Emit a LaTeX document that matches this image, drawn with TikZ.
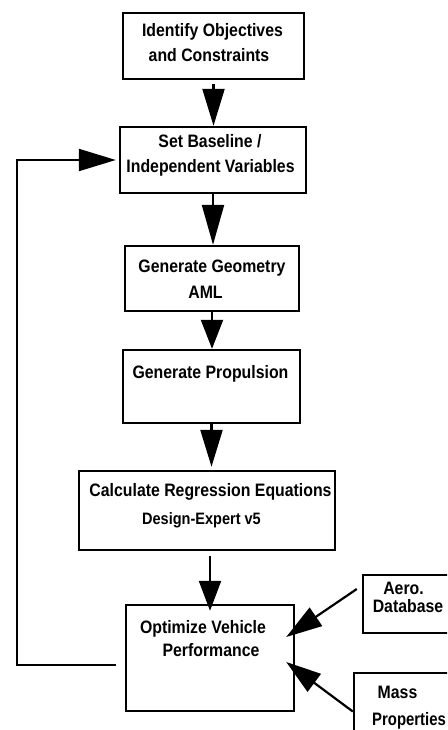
\documentclass[tikz,border=0pt]{standalone}
\usepackage{fontspec}
\setmainfont{Liberation Sans}[FakeStretch=0.88]
\usetikzlibrary{arrows.meta}
\begin{document}
\begin{tikzpicture}[x=1pt,y=-1pt,
  box/.style={draw, line width=2.4pt, rectangle, inner sep=0pt},
  lbl/.style={anchor=base, inner sep=0pt, font=\fontsize{18}{18}\selectfont\bfseries},
  lbls/.style={anchor=base, inner sep=0pt, font=\fontsize{16.5}{16.5}\selectfont\bfseries},
  conn/.style={line width=2.2pt},
  arr/.style={conn, -{Triangle[length=#1pt, width=22pt]}},
  arr/.default=36
]
\useasboundingbox (0,0) rectangle (447,730);
\clip (0,0) rectangle (447,730);
% boxes
\node[box, minimum width=181pt, minimum height=66pt] (b1) at (213.5,46) {};
\node[box, minimum width=186pt, minimum height=66pt] (b2) at (213,160) {};
\node[box, minimum width=174pt, minimum height=65pt] (b3) at (212,278.5) {};
\node[box, minimum width=177pt, minimum height=73pt] (b4) at (211.5,386.5) {};
\node[box, minimum width=256pt, minimum height=79pt] (b5) at (207,510.5) {};
\node[box, minimum width=168pt, minimum height=106pt] (b6) at (210,658) {};
\node[box, minimum width=107pt, minimum height=58pt] (aero) at (416.5,604) {};
\node[box, minimum width=116pt, minimum height=77pt] (mass) at (412,711.5) {};
% texts
\node[lbl] (l1a) at (212.5,37) {Identify Objectives};
\node[lbl] (l1b) at (209,62) {and Constraints};
\node[lbl] (l2a) at (210,148) {Set Baseline /};
\node[lbl] (l2b) at (210.5,172) {Independent Variables};
\node[lbl] (l3a) at (212,272) {Generate Geometry};
\node[lbl] (l3b) at (205.5,298) {AML};
\node[lbl] (l4) at (210.5,378) {Generate Propulsion};
\node[lbl] (l5a) at (210.5,496) {Calculate Regression Equations};
\node[lbls] (l5b) at (201.5,524) {Design-Expert v5};
\node[lbl] (l6a) at (203,633) {Optimize Vehicle};
\node[lbl] (l6b) at (211,656) {Performance};
\node[lbl] (la1) at (403.5,594) {Aero.};
\node[lbl] (la2) at (408,612) {Database};
\node[lbl] (lm1) at (397.5,698) {Mass};
\node[lbl, anchor=base west, xscale=0.94] (lm2) at (372,725) {Properties};
% vertical connectors
\draw[arr=37] ([yshift=-4pt]b1.south) -- (b1.south |- b2.north);
\draw[arr=40] (b2.south) -- (b2.south |- b3.north);
\draw[arr=29] (b3.south) -- (b3.south |- b4.north);
\draw[arr=37] (b4.south) -- ([yshift=3pt]b4.south |- b5.north);
\draw[arr=30] ([yshift=-5pt]b6.north |- b5.south) -- ([yshift=-7pt]b6.north);
% feedback
\draw[arr=37] ([xshift=-9pt,yshift=-7pt]b6.west) -- ++(-99,0) |- ([xshift=-3pt]b2.west);
% side inputs
\draw[arr=36] ([xshift=-5pt,yshift=15pt]aero.west) -- ([xshift=-9pt,yshift=21pt]b6.east);
\draw[arr=35] (mass.west) -- ([xshift=-9pt,yshift=-4pt]b6.east);
\end{tikzpicture}
\end{document}
